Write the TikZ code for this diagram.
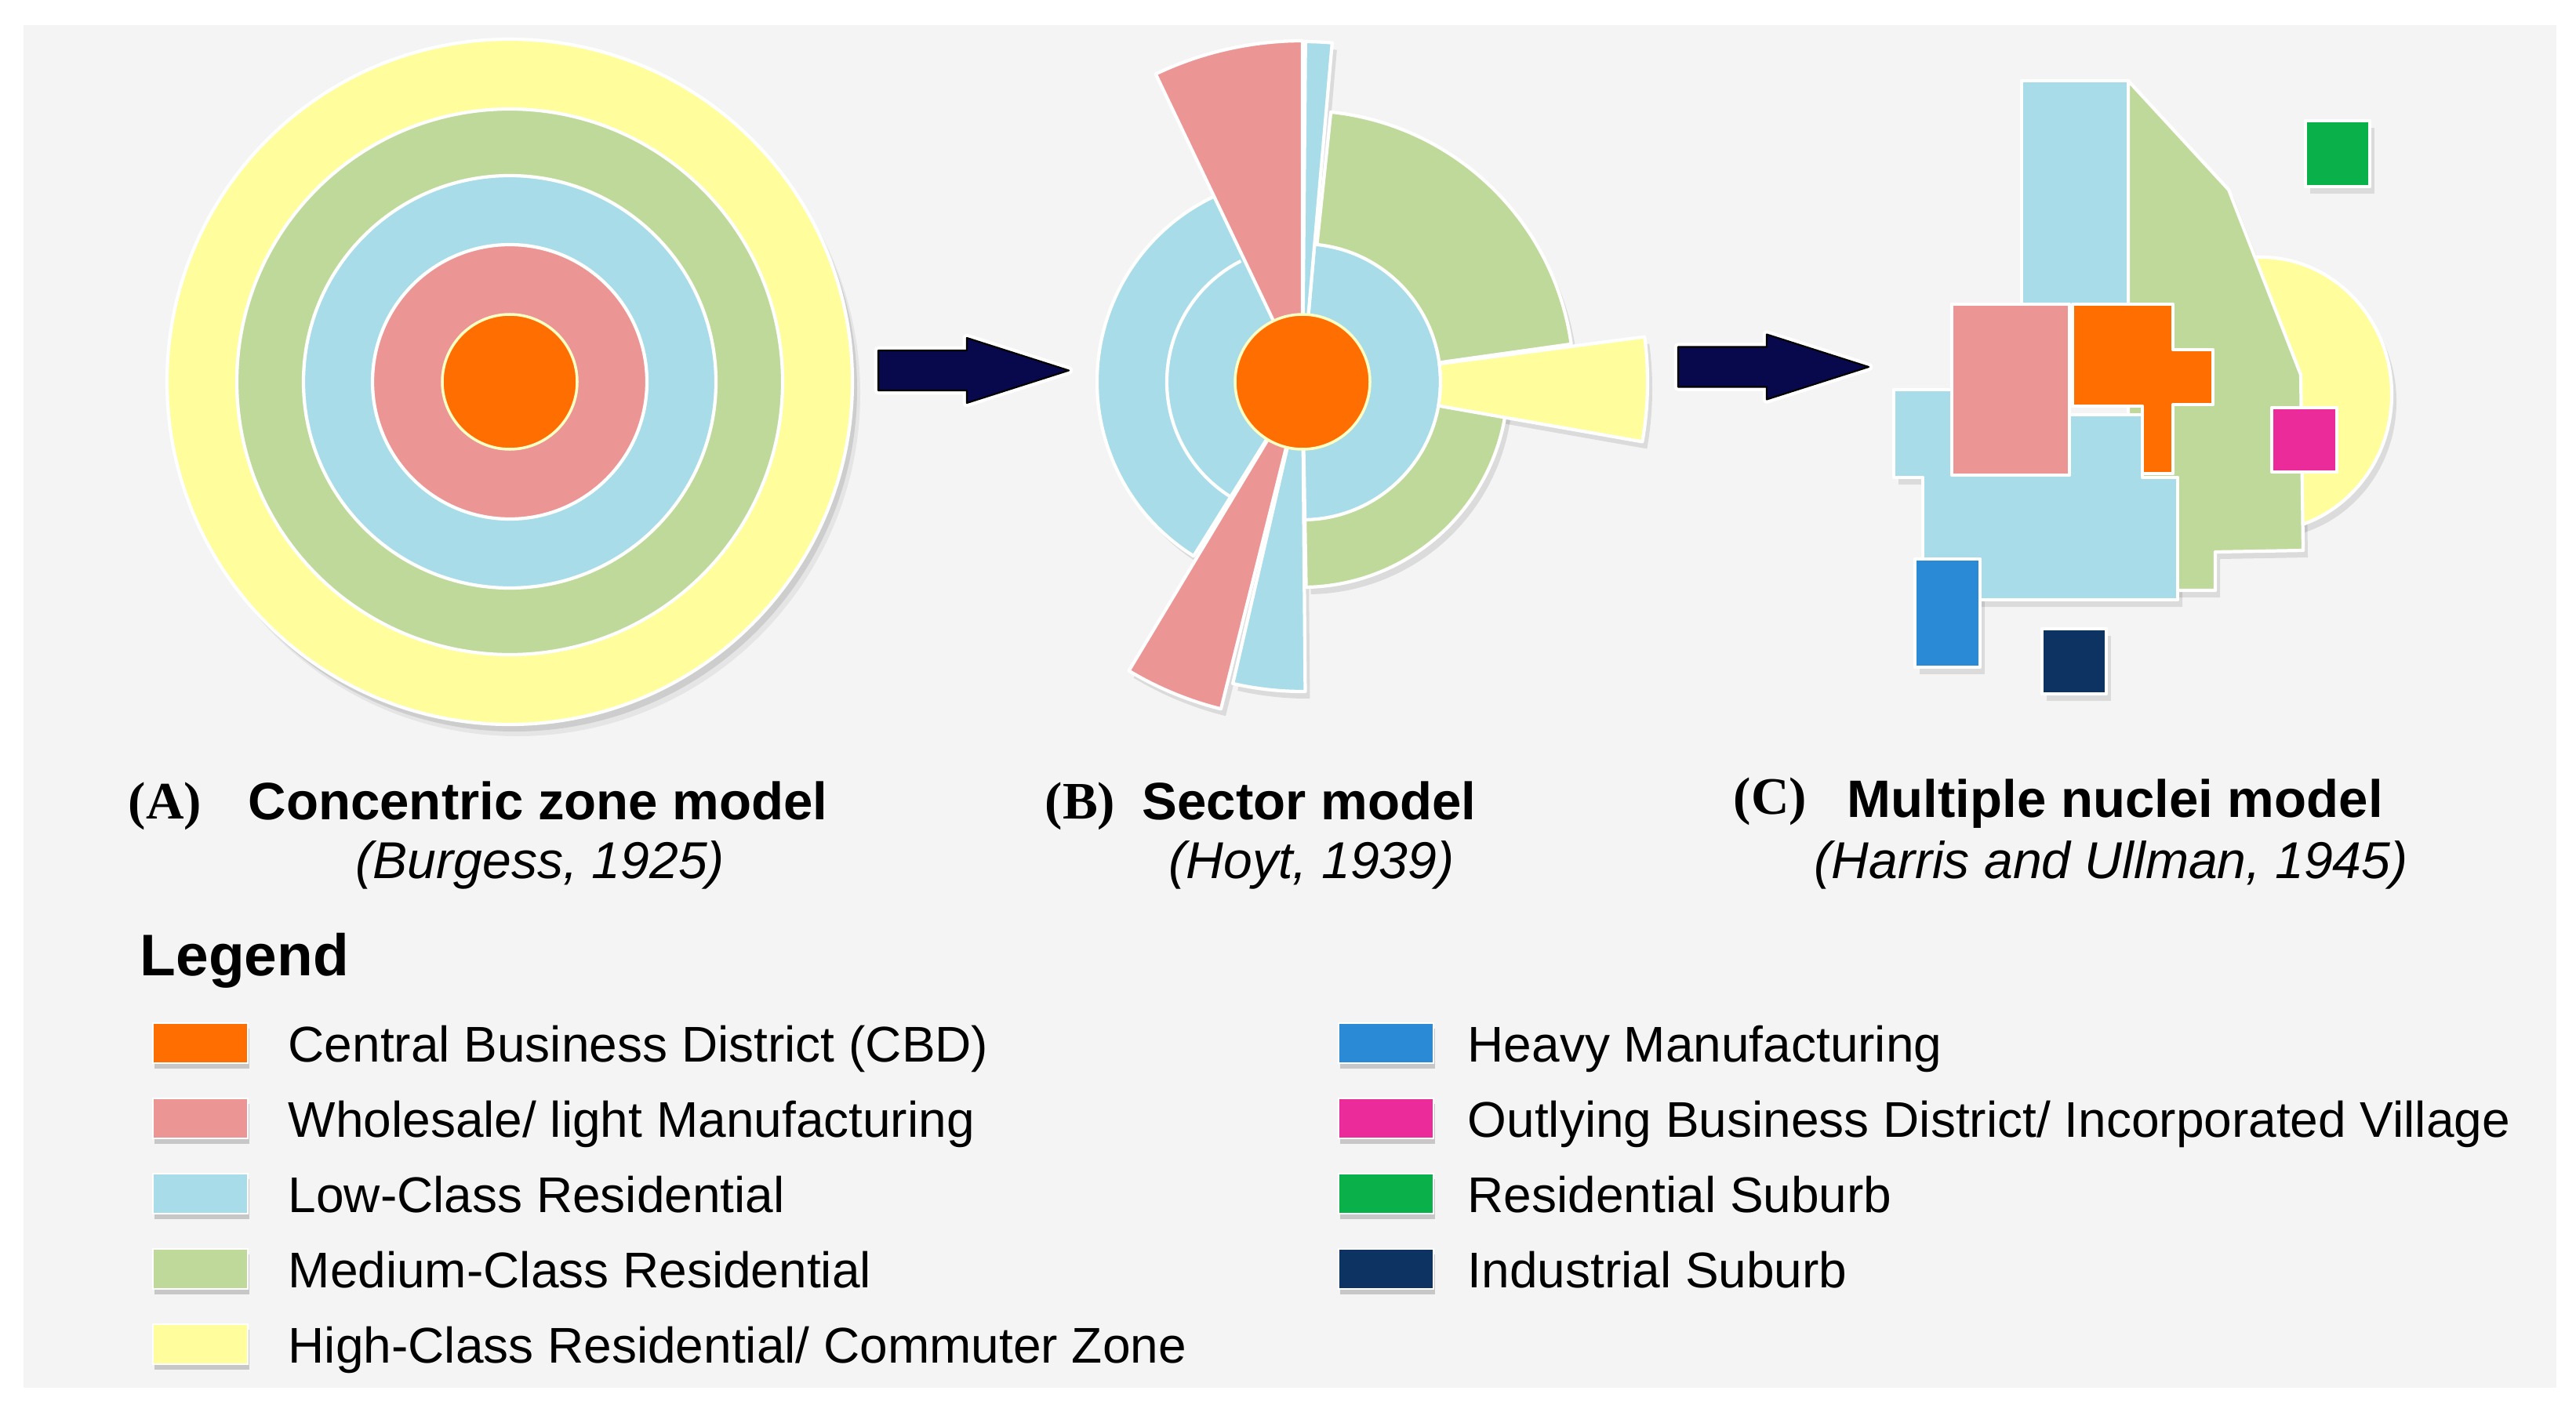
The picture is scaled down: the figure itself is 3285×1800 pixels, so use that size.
\documentclass[tikz,border=0pt]{standalone}
\usepackage{fontspec}
\setmainfont{Liberation Sans}
\newfontfamily\lserif{Liberation Serif}
\usetikzlibrary{calc}

\definecolor{cbd}{HTML}{FF6E00}
\definecolor{whl}{HTML}{EC9595}
\definecolor{lowc}{HTML}{A8DCE8}
\definecolor{medc}{HTML}{BFD99B}
\definecolor{highc}{HTML}{FFFD9C}
\definecolor{heavy}{HTML}{2A8AD5}
\definecolor{outly}{HTML}{EC2B9B}
\definecolor{ressub}{HTML}{0AB04A}
\definecolor{indsub}{HTML}{0C3361}
\definecolor{arrowc}{HTML}{08084C}
\definecolor{bgc}{HTML}{F4F4F4}

\newcommand\sector[4]{\path[#1] (0,0) -- (#2:#4) arc[start angle=#2, end angle=#3, radius=#4] -- cycle;}
\newcommand\annsec[5]{\path[#1] (#2:#4) arc[start angle=#2, end angle=#3, radius=#4] -- (#3:#5) arc[start angle=#3, end angle=#2, radius=#5] -- cycle;}
\newcommand\barrow[2]{%
  \begin{scope}[shift={(#1,-#2)}]
    \draw[white, line width=3pt, line join=round] (0,25.5) -- (113,25.5) -- (113,41.5) -- (243,0) -- (113,-41.5) -- (113,-25.5) -- (0,-25.5) -- cycle;
    \path[blockarrow] (0,25.5) -- (113,25.5) -- (113,41.5) -- (243,0) -- (113,-41.5) -- (113,-25.5) -- (0,-25.5) -- cycle;
  \end{scope}}
\newcommand\legrow[6]{%
  \fill[sws] (#2,-#3) rectangle ++(121,-51);
  \path[sw, fill=#4] (#2,-#3) rectangle ++(121,-51);
  \node[leg] (#1) at ($(#5,-#3)+(0,-49)$) {#6};}

\begin{document}
\begin{tikzpicture}[x=0.01cm,y=0.01cm,
  zone/.style={draw=white, line width=1.2pt, line join=round},
  shd/.style={fill=black, opacity=0.10, shift={(6,-9)}},
  shdb/.style={fill=black, opacity=0.06, shift={(10,-15)}},
  sws/.style={fill=black, opacity=0.18, shift={(2,-7)}},
  sw/.style={draw=white, line width=0.8pt},
  blockarrow/.style={fill=arrowc, draw=black, line width=0.6pt, line join=round},
  ttl/.style={anchor=base west, inner sep=0pt, font=\fontsize{19.1pt}{23pt}\selectfont\bfseries},
  lab/.style={anchor=base west, inner sep=0pt, font=\fontsize{19.1pt}{23pt}\selectfont\lserif\bfseries},
  sub/.style={anchor=base west, inner sep=0pt, font=\fontsize{18.8pt}{23pt}\selectfont\itshape},
  leg/.style={anchor=base west, inner sep=0pt, font=\fontsize{18.2pt}{22pt}\selectfont},
  legt/.style={anchor=base west, inner sep=0pt, font=\fontsize{21.3pt}{25pt}\selectfont\bfseries}
]
\useasboundingbox (0,0) rectangle (3285,-1800);
\fill[white] (0,0) rectangle (3285,-1800);
\fill[bgc] (30,-32) rectangle (3260,-1770);

% ---------- (A) concentric zone model ----------
\begin{scope}[shift={(650,-487)}]
  \fill[shdb] (0,0) circle[radius=437];
  \fill[shd] (0,0) circle[radius=437];
  \path[zone, fill=highc] (0,0) circle[radius=437];
  \path[zone, fill=medc] (0,0) circle[radius=348];
  \path[zone, fill=lowc] (0,0) circle[radius=263];
  \path[zone, fill=whl] (0,0) circle[radius=175];
  \path[fill=cbd, draw=highc!60!white, line width=1pt] (0,0) circle[radius=86];
\end{scope}

% ---------- arrows ----------
\barrow{1120}{472.5}
\barrow{2140}{468}

% ---------- (B) sector model ----------
\begin{scope}[shift={(1661,-487)}]
  \sector{shd}{114}{238}{262}
  \sector{shd}{-89}{9}{262}
  \sector{shd}{8}{84}{346}
  \annsec{shd}{-10}{7.5}{176}{440}
  \sector{shd}{90}{115.5}{435}
  \sector{shd}{85}{89.5}{434}
  \sector{shd}{239}{256}{430}
  \sector{shd}{257}{270.5}{395}
  \sector{zone, fill=lowc}{114}{238}{262}
  \draw[white, line width=1.2pt] (117:173) arc[start angle=117, end angle=238, radius=173];
  \sector{zone, fill=medc}{-89}{9}{262}
  \sector{zone, fill=medc}{8}{84}{346}
  \sector{zone, fill=lowc}{-89}{85}{176}
  \annsec{zone, fill=highc}{-10}{7.5}{176}{440}
  \sector{zone, fill=whl}{90}{115.5}{435}
  \sector{zone, fill=lowc}{85}{89.5}{434}
  \sector{zone, fill=whl}{239}{256}{430}
  \sector{zone, fill=lowc}{257}{270.5}{395}
  \path[fill=cbd, draw=highc!60!white, line width=1pt] (0,0) circle[radius=86];
\end{scope}

% ---------- (C) multiple nuclei model ----------
\fill[shd] (2883,-503) ellipse[x radius=167, y radius=175];
\fill[shd] (2714,-103) -- (2842,-242) -- (2934,-478) -- (2937,-702) -- (2825,-704) -- (2825,-753) -- (2714,-753) -- cycle;
\fill[shd] (2578,-103) rectangle (2714,-392);
\fill[shd] (2415,-497) -- (2495,-497) -- (2495,-529) -- (2732,-529) -- (2732,-609) -- (2777,-609) -- (2777,-765) -- (2452,-765) -- (2452,-609) -- (2415,-609) -- cycle;
\fill[shd] (2442,-713) rectangle (2525,-851);
\fill[shd] (2604,-802) rectangle (2686,-885);
\fill[shd] (2940,-154) rectangle (3022,-238);
\fill[shd] (2897,-520) rectangle (2980,-602);

\path[zone, fill=highc] (2883,-503) ellipse[x radius=167, y radius=175];
\path[zone, fill=medc] (2714,-103) -- (2842,-242) -- (2934,-478) -- (2937,-702) -- (2825,-704) -- (2825,-753) -- (2714,-753) -- cycle;
\path[zone, fill=lowc] (2578,-103) rectangle (2714,-392);
\path[zone, fill=lowc] (2415,-497) -- (2495,-497) -- (2495,-529) -- (2732,-529) -- (2732,-609) -- (2777,-609) -- (2777,-765) -- (2452,-765) -- (2452,-609) -- (2415,-609) -- cycle;
\path[zone, fill=whl] (2489,-388) rectangle (2639,-606);
\path[zone, fill=cbd] (2643,-388) -- (2771,-388) -- (2771,-446) -- (2822,-446) -- (2822,-516) -- (2771,-516) -- (2771,-604) -- (2732,-604) -- (2732,-518) -- (2643,-518) -- cycle;
\path[zone, fill=outly] (2897,-520) rectangle (2980,-602);
\path[zone, fill=heavy] (2442,-713) rectangle (2525,-851);
\path[zone, fill=indsub] (2604,-802) rectangle (2686,-885);
\path[zone, fill=ressub] (2940,-154) rectangle (3022,-238);

% ---------- titles ----------
\node[lab] (labA) at (163,-1044) {(A)};
\node[ttl] (ttlA) at (316,-1045) {Concentric zone model};
\node[sub] (subA) at (453,-1120) {(Burgess, 1925)};
\node[lab] (labB) at (1332,-1044) {(B)};
\node[ttl] (ttlB) at (1456,-1045) {Sector model};
\node[sub] (subB) at (1490,-1120) {(Hoyt, 1939)};
\node[lab] (labC) at (2210,-1038) {(C)};
\node[ttl] (ttlC) at (2355,-1042) {Multiple nuclei model};
\node[sub] (subC) at (2313,-1120) {(Harris and Ullman, 1945)};

% ---------- legend ----------
\node[legt] (legtitle) at (178,-1244) {Legend};
\legrow{lcbd}{195}{1305}{cbd}{367}{Central Business District (CBD)}
\legrow{lwhl}{195}{1401}{whl}{367}{Wholesale/ light Manufacturing}
\legrow{llow}{195}{1497}{lowc}{367}{Low-Class Residential}
\legrow{lmed}{195}{1593}{medc}{367}{Medium-Class Residential}
\legrow{lhigh}{195}{1689}{highc}{367}{High-Class Residential/ Commuter Zone}
\legrow{lheavy}{1707}{1305}{heavy}{1871}{Heavy Manufacturing}
\legrow{lout}{1707}{1401}{outly}{1871}{Outlying Business District/ Incorporated Village}
\legrow{lres}{1707}{1497}{ressub}{1871}{Residential Suburb}
\legrow{lind}{1707}{1593}{indsub}{1871}{Industrial Suburb}
\end{tikzpicture}
\end{document}
